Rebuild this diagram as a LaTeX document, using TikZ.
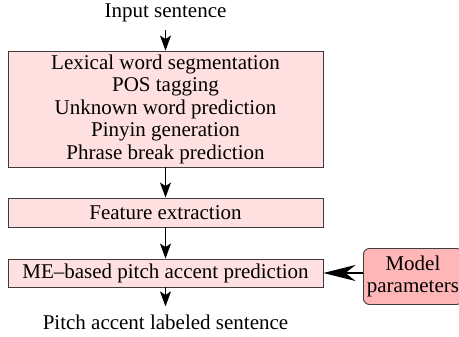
\documentclass[tikz,border=0pt]{standalone}
\usepackage{fontspec}
\setmainfont{Liberation Serif}
\newfontfamily\tnr{Liberation Serif}
\usetikzlibrary{arrows.meta}
\definecolor{lightpink}{RGB}{255,224,224}
\definecolor{midpink}{RGB}{255,182,182}
\definecolor{edge}{RGB}{60,60,60}
\begin{document}
\begin{tikzpicture}[x=1pt,y=-1pt,
  txt/.style={font=\tnr\fontsize{21}{22.5}\selectfont, inner sep=0pt, align=center},
  box/.style={txt, draw=edge, line width=0.9pt, fill=lightpink, minimum width=315pt},
  arr/.style={-{Stealth[length=15pt,width=11pt,inset=3.5pt]}, line width=1.1pt},
  bigarr/.style={-{Stealth[length=32pt,width=16pt,inset=10pt]}, line width=1.1pt}]
\useasboundingbox (0,0) rectangle (459,337);
\node[txt] (inp) at (165.5,13) {Input sentence};
\node[box, minimum height=116pt] (big) at (165.5,109) {Lexical word segmentation\\POS tagging\\Unknown word prediction\\Pinyin generation\\Phrase break prediction};
\node[box, minimum height=29pt] (feat) at (165.5,212.5) {Feature extraction};
\node[box, minimum height=28pt] (me) at (165.5,273) {ME\textendash based pitch accent prediction};
\node[txt, draw=edge, line width=0.9pt, fill=midpink, rounded corners=6pt, minimum width=99pt, minimum height=56pt, anchor=west] (model) at (363,276.5) {Model\\parameters};
\node[txt] (out) at (165.5,322) {Pitch accent labeled sentence};
\draw[arr, shorten <=8pt] (inp.south) -- (big.north);
\draw[arr] (big.south) -- (feat.north);
\draw[arr] (feat.south) -- (me.north);
\draw[arr, shorten >=8pt] (me.south) -- (out.north);
\draw[bigarr] (model.west |- me.east) -- (me.east);
\end{tikzpicture}
\end{document}
